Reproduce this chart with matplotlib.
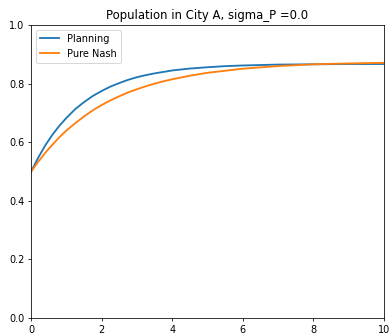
import matplotlib
matplotlib.use('Agg')
import matplotlib.pyplot as plt

# time points
t = [0, 0.2, 0.4, 0.6, 0.8, 1.0, 1.25, 1.5, 1.75, 2.0, 2.25, 2.5, 2.75, 3.0,
     3.25, 3.5, 3.75, 4.0, 4.5, 5.0, 5.5, 6.0, 7.0, 8.0, 9.0, 10.0]
planning = [0.500, 0.547, 0.589, 0.625, 0.656, 0.683, 0.713, 0.737, 0.758, 0.775,
            0.790, 0.802, 0.813, 0.822, 0.829, 0.835, 0.840, 0.845, 0.8515, 0.856,
            0.8597, 0.862, 0.865, 0.866, 0.867, 0.867]
pure_nash = [0.500, 0.533, 0.564, 0.591, 0.617, 0.640, 0.665, 0.688, 0.709, 0.727,
             0.743, 0.757, 0.770, 0.781, 0.791, 0.800, 0.808, 0.815, 0.827, 0.837,
             0.844, 0.851, 0.860, 0.866, 0.869, 0.871]

# figure was drawn at default sizes and shrunk, so use a low dpi
fig = plt.figure(figsize=(389 / 70, 334 / 70), dpi=70)
ax = fig.add_axes([0.08, 0.048, 0.907, 0.877])

ax.plot(t, planning, label='Planning', color='#1f77b4', lw=1.9)
ax.plot(t, pure_nash, label='Pure Nash', color='#ff7f0e', lw=1.9)

ax.set_xlim(0, 10)
ax.set_ylim(0, 1.0)
ax.set_xticks([0, 2, 4, 6, 8, 10])
ax.set_yticks([0.0, 0.2, 0.4, 0.6, 0.8, 1.0])
ax.set_title('Population in City A, sigma_P =0.0')
ax.legend(loc='upper left')

fig.savefig('out.png', dpi=70)
